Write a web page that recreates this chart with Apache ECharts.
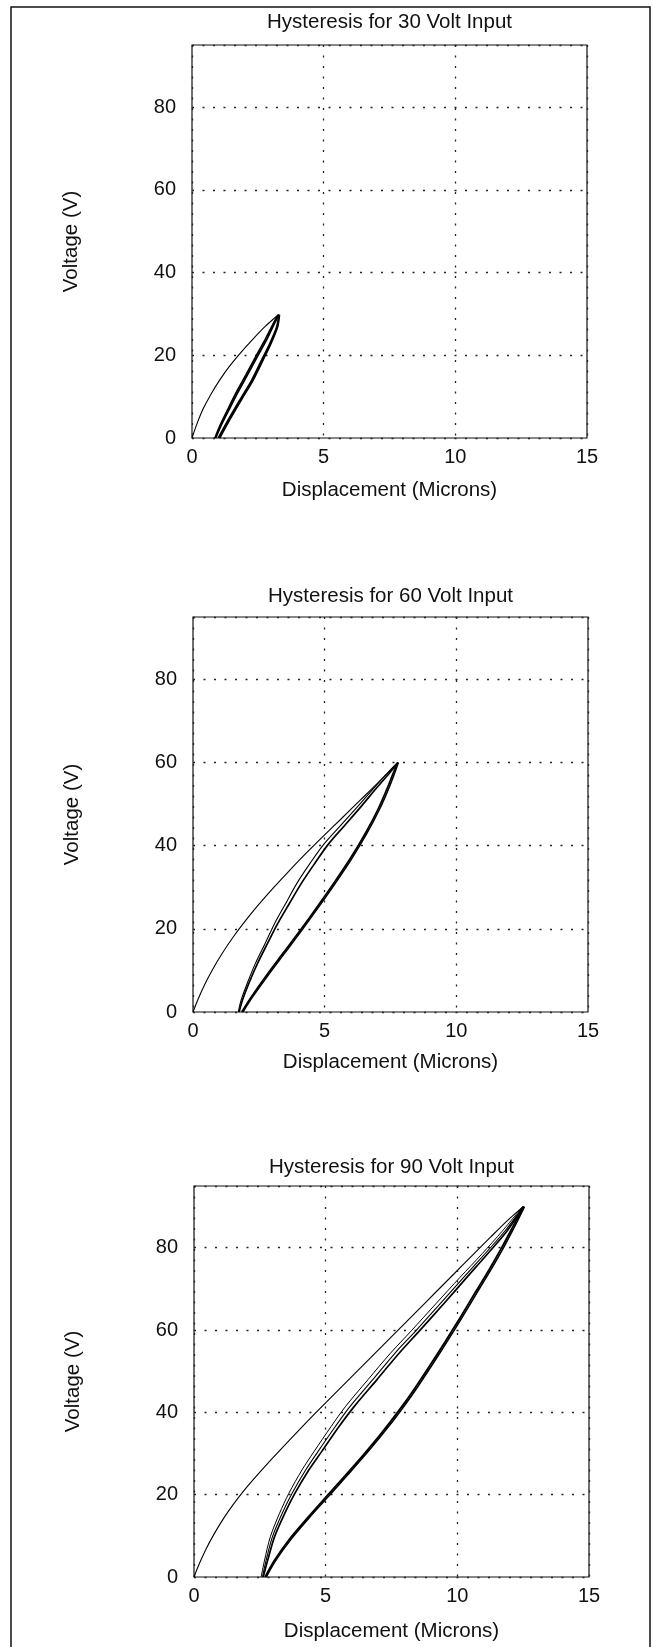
<!DOCTYPE html>
<html>
<head>
<meta charset="utf-8">
<script src="https://cdn.jsdelivr.net/npm/echarts@6/dist/echarts.min.js"></script>
<style>
  html, body { margin: 0; padding: 0; background: #fff; }
  #chart { width: 653px; height: 1647px; }
</style>
</head>
<body>
<div id="chart"></div>
<script>
// ---- axis ticks and labels ----
const xTickValues = [0, 5, 10, 15];
const yTickValues = [0, 20, 40, 60, 80];
const xRange = [0, 15];
const yRange = [0, 95];
const panelTitles = ['Hysteresis for 30 Volt Input', 'Hysteresis for 60 Volt Input', 'Hysteresis for 90 Volt Input'];
const xAxisTitle = 'Displacement (Microns)';
const yAxisTitle = 'Voltage (V)';

// ---- 30 V input: [displacement (microns), voltage (V)] ----
const virgin30 = [[0,0],[0.18,3.3],[0.42,7],[0.72,10.6],[1.05,14],[1.42,17.3],[1.82,20.4],[2.27,23.6],[2.75,26.8],[3.28,29.8]];
const rise30a = [[0.87,0],[1.04,2.7],[1.35,6.8],[1.66,10.8],[2.04,15.2],[2.42,19.7],[2.8,24.1],[3.12,28.1],[3.28,29.8]];
const rise30b = [[0.9,0],[1.08,2.7],[1.4,6.8],[1.72,10.8],[2.1,15.2],[2.48,19.7],[2.86,24.1],[3.16,28.1],[3.3,29.8]];
const fall30a = [[3.3,29.8],[3.22,26.9],[2.96,22.9],[2.65,18.9],[2.27,14],[1.82,9.2],[1.38,4.4],[1.0,0]];
const fall30b = [[3.32,29.8],[3.25,26.9],[3.0,22.9],[2.7,18.9],[2.32,14],[1.87,9.2],[1.43,4.4],[1.05,0]];

// ---- 60 V input ----
const virgin60 = [[0,0],[0.2,3.2],[0.45,6.7],[0.75,10.3],[1.1,14],[1.5,17.8],[1.95,21.6],[2.45,25.5],[3.0,29.5],[3.6,33.6],[4.25,37.9],[4.95,42.3],[5.65,46.6],[6.35,50.95],[7.05,55.3],[7.77,60]];
const rise60a = [[1.72,0],[1.83,2.9],[2.06,6.9],[2.37,11.7],[2.74,16.5],[3.1,21.3],[3.52,26.1],[3.95,31],[4.45,35.8],[4.95,40.2],[5.6,44.8],[6.25,49.4],[6.9,54.1],[7.4,57.6],[7.77,60]];
const rise60b = [[1.75,0],[1.88,2.9],[2.12,6.9],[2.45,11.7],[2.83,16.5],[3.22,21.3],[3.66,26.1],[4.12,31],[4.63,35.8],[5.12,40.2],[5.75,44.8],[6.38,49.4],[7.0,54.1],[7.48,57.6],[7.78,60]];
const fall60a = [[7.78,60],[7.65,58.2],[7.4,54.2],[7.02,48.7],[6.52,42.7],[5.97,36.9],[5.37,31.2],[4.75,25.6],[4.1,19.9],[3.45,14.4],[2.8,8.9],[2.2,3.5],[1.85,0]];
const fall60b = [[7.8,60],[7.7,58.2],[7.46,54.2],[7.08,48.7],[6.58,42.7],[6.03,36.9],[5.43,31.2],[4.81,25.6],[4.16,19.9],[3.51,14.4],[2.86,8.9],[2.25,3.5],[1.9,0]];

// ---- 90 V input ----
const virgin90 = [[0,0],[0.2,3.2],[0.45,6.7],[0.75,10.3],[1.1,14],[1.5,17.7],[1.95,21.4],[2.45,25.1],[3.0,29],[3.6,33.1],[4.25,37.45],[4.95,42],[5.65,46.5],[6.35,51],[7.05,55.5],[7.75,60],[8.45,64.5],[9.15,69],[9.85,73.5],[10.55,78],[11.25,82.5],[11.9,86.6],[12.5,90]];
const rise90a = [[2.55,0],[2.68,4.1],[2.9,9.8],[3.25,15.5],[3.6,20.3],[4.1,26],[4.55,30.4],[5.2,36.5],[5.75,41.4],[6.6,47.9],[7.45,54.3],[8.25,59.8],[9.2,66.5],[10.1,72.8],[10.95,78.6],[11.7,84],[12.48,90]];
const rise90b = [[2.6,0],[2.74,4.1],[2.98,9.8],[3.35,15.5],[3.72,20.3],[4.24,26],[4.7,30.4],[5.36,36.5],[5.92,41.4],[6.78,47.9],[7.62,54.3],[8.42,59.8],[9.36,66.5],[10.24,72.8],[11.06,78.6],[11.8,84],[12.5,90]];
const rise90c = [[2.63,0],[2.8,4.1],[3.06,9.8],[3.45,15.5],[3.83,20.3],[4.36,26],[4.84,30.4],[5.5,36.5],[6.08,41.4],[6.94,47.9],[7.78,54.3],[8.56,59.8],[9.5,66.5],[10.36,72.8],[11.16,78.6],[11.88,84],[12.52,90]];
const fall90a = [[12.52,90],[12.15,85.6],[11.7,80.2],[11.2,74.6],[10.65,68.8],[10.1,62.95],[9.55,57.3],[9.0,51.8],[8.4,46],[7.8,40.6],[7.15,35.2],[6.45,29.8],[5.75,24.7],[5.05,19.7],[4.3,14.3],[3.6,9],[3.05,4],[2.7,0]];
const fall90b = [[12.55,90],[12.21,85.6],[11.77,80.2],[11.27,74.6],[10.72,68.8],[10.17,62.95],[9.62,57.3],[9.07,51.8],[8.47,46],[7.87,40.6],[7.22,35.2],[6.52,29.8],[5.82,24.7],[5.12,19.7],[4.36,14.3],[3.66,9],[3.1,4],[2.74,0]];

// ---- layout of the three panels ----
const panels = [
  { left: 192, top: 45,   width: 395, height: 393, titleY: 22,   nameGap: 42 },
  { left: 193, top: 617,  width: 395, height: 395, titleY: 596,  nameGap: 40 },
  { left: 194, top: 1186, width: 395, height: 391, titleY: 1167, nameGap: 44 }
];

const FONT = '"Liberation Sans", Arial, Helvetica, sans-serif';
const INK = '#111';

const grid = panels.map(p => ({
  left: p.left, top: p.top, width: p.width, height: p.height,
  show: true, borderColor: INK, borderWidth: 1.2, backgroundColor: 'transparent'
}));

const gridLine = { show: true, lineStyle: { color: '#222', width: 1.3, type: [2, 8.5] } };

const xAxis = panels.map((p, i) => ({
  type: 'value', gridIndex: i, min: xRange[0], max: xRange[1], interval: 5,
  axisLine: { show: false }, axisTick: { show: false },
  splitLine: gridLine,
  axisLabel: {
    margin: 9, color: INK, fontSize: 20, fontFamily: FONT,
    formatter: v => (xTickValues.includes(v) ? String(v) : '')
  },
  name: xAxisTitle, nameLocation: 'middle', nameGap: p.nameGap,
  nameTextStyle: { color: INK, fontSize: 20.5, fontFamily: FONT }
}));

const yAxis = panels.map((p, i) => ({
  type: 'value', gridIndex: i, min: yRange[0], max: yRange[1], interval: 20,
  axisLine: { show: false }, axisTick: { show: false },
  splitLine: gridLine,
  axisLabel: {
    margin: 16, color: INK, fontSize: 20, fontFamily: FONT, showMaxLabel: false,
    formatter: v => (yTickValues.includes(v) ? String(v) : '')
  },
  name: yAxisTitle, nameLocation: 'middle', nameGap: 110, nameRotate: 90,
  nameTextStyle: { color: INK, fontSize: 20.5, fontFamily: FONT }
}));

function branch(panel, data, width) {
  return {
    type: 'line', xAxisIndex: panel, yAxisIndex: panel, data: data,
    showSymbol: false, smooth: 0.3, silent: true,
    lineStyle: { color: '#000', width: width }
  };
}

const series = [
  branch(0, virgin30, 1.1), branch(0, rise30a, 1.6), branch(0, rise30b, 1.8),
  branch(0, fall30a, 1.8), branch(0, fall30b, 1.8),
  branch(1, virgin60, 1.1), branch(1, rise60a, 1.1), branch(1, rise60b, 1.7),
  branch(1, fall60a, 1.7), branch(1, fall60b, 1.5),
  branch(2, virgin90, 1.1), branch(2, rise90a, 1.0), branch(2, rise90b, 1.1),
  branch(2, rise90c, 1.7), branch(2, fall90a, 1.8), branch(2, fall90b, 1.6)
];

const graphic = [
  // page frame (open at the bottom)
  { type: 'rect', shape: { x: 11, y: 7, width: 639, height: 1700 },
    style: { fill: 'none', stroke: INK, lineWidth: 1.5 }, silent: true }
].concat(panels.map((p, i) => ({
  type: 'text', x: p.left + p.width / 2, y: p.titleY, silent: true,
  style: { text: panelTitles[i], fill: INK, fontSize: 20.5, fontFamily: FONT,
           align: 'center', verticalAlign: 'middle' }
})));

const chart = echarts.init(document.getElementById('chart'), null, { renderer: 'canvas' });
chart.setOption({
  animation: false,
  backgroundColor: '#fff',
  grid, xAxis, yAxis, series, graphic
});
</script>
</body>
</html>
